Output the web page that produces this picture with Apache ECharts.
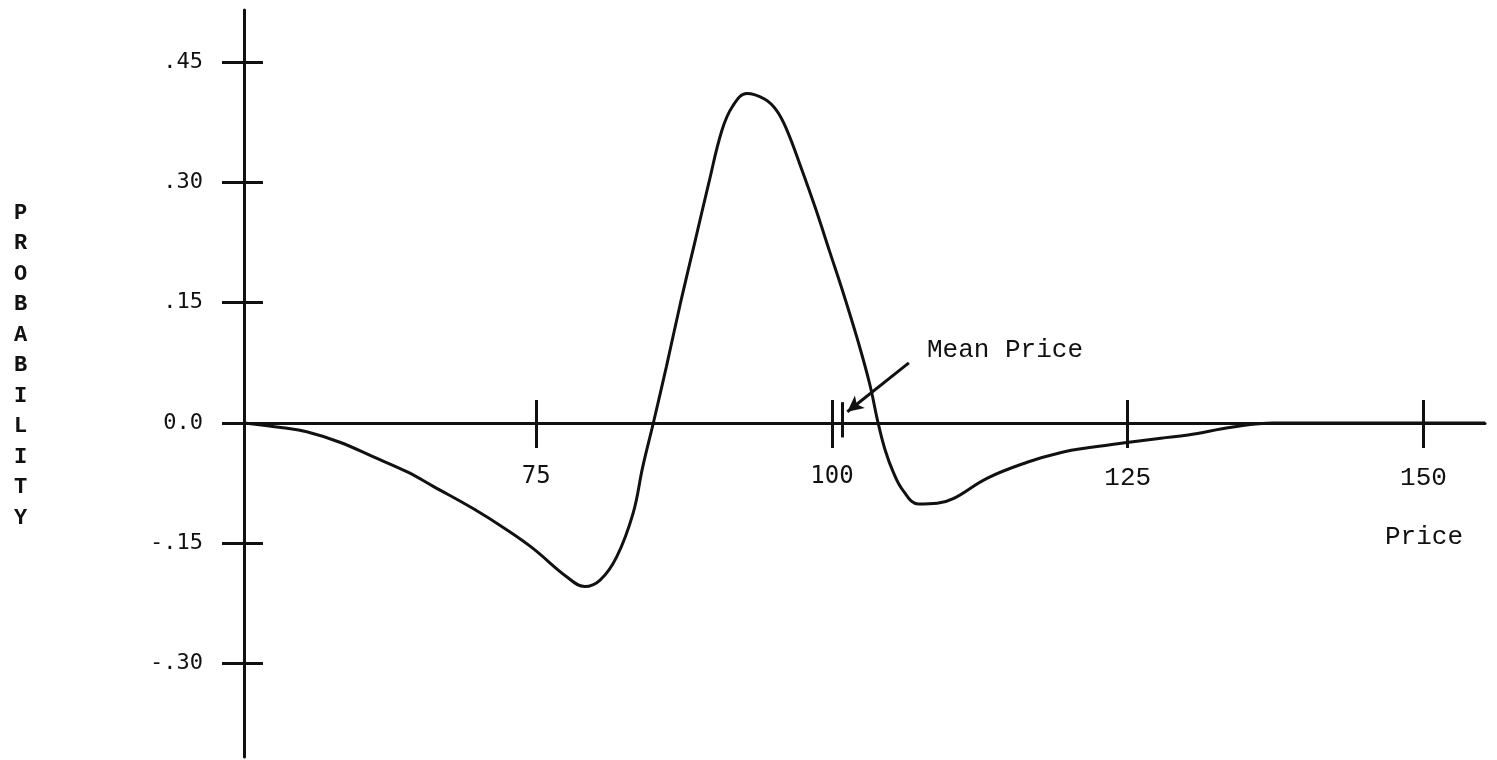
<!DOCTYPE html>
<html>
<head>
<meta charset="utf-8">
<script src="https://cdn.jsdelivr.net/npm/echarts@6/dist/echarts.min.js"></script>
<style>
html,body{margin:0;padding:0;background:#fff;}
#chart{width:1497px;height:760px;}
</style>
</head>
<body>
<div id="chart"></div>
<script>
// ---- data ----
const priceValues = [50.3, 53.6, 55.6, 58.4, 61.2, 64.1, 66.3, 69.7, 72.5, 74.7, 77.6, 79.1, 80.4, 81.8, 83.2, 84.0, 84.9, 86.0, 87.2, 88.4, 89.6, 90.7, 91.6, 92.8, 94.3, 95.3, 96.2, 97.4, 98.6, 99.8, 101.0, 102.2, 103.2, 103.9, 104.5, 105.2, 106.0, 107.3, 108.9, 110.3, 113.1, 116.5, 119.3, 122.1, 125.1, 127.8, 130.1, 133.9, 137.3, 145, 155.2];
const probValues = [0.0, -0.006, -0.011, -0.024, -0.042, -0.061, -0.079, -0.107, -0.133, -0.156, -0.192, -0.204, -0.196, -0.167, -0.112, -0.055, 0.0, 0.070, 0.150, 0.225, 0.300, 0.365, 0.395, 0.411, 0.404, 0.390, 0.365, 0.318, 0.268, 0.214, 0.160, 0.102, 0.048, 0.0, -0.034, -0.062, -0.084, -0.101, -0.100, -0.094, -0.069, -0.049, -0.037, -0.030, -0.024, -0.019, -0.015, -0.005, 0.0, 0.0, 0.0];
const xTickValues = [75, 100, 125, 150];
const yTickValues = [0.45, 0.30, 0.15, 0.0, -0.15, -0.30];
const yTickLabels = {'0.45': '.45', '0.3': '.30', '0.15': '.15', '0': '0.0', '-0.15': '-.15', '-0.3': '-.30'};
const meanPrice = 100.9;
const meanMark = [0.026, -0.018];
const arrowFrom = [106.5, 0.075];
const arrowTo = [101.3, 0.014];
const xTitle = 'Price';
const yTitle = 'PROBABILITY';
const meanLabel = 'Mean Price';

// ---- chart ----
const INK = '#111';
const chart = echarts.init(document.getElementById('chart'));
const gridLeft = 244, gridTop = 10, gridWidth = 1241, gridHeight = 747;
const xMin = 50.3, xMax = 155.2, yMin = -0.4165, yMax = 0.515;
// distance from the grid bottom up to the zero line (onZero axis labels are offset from grid bottom)
const zeroFromBottom = gridHeight * (0 - yMin) / (yMax - yMin);
const option = {
  backgroundColor: '#fff',
  animation: false,
  grid: {left: gridLeft, top: gridTop, width: gridWidth, height: gridHeight, containLabel: false, outerBoundsMode: 'none'},
  xAxis: [
    {
      type: 'value', min: xMin, max: xMax, position: 'bottom',
      axisLine: {show: true, onZero: true, lineStyle: {color: INK, width: 3}},
      axisTick: {show: true, customValues: xTickValues, length: 25, lineStyle: {color: INK, width: 3}},
      axisLabel: {
        show: true, customValues: xTickValues, margin: 42 - zeroFromBottom,
        formatter: function (v) { return (v < 110 ? '{a|' : '{b|') + v + '}'; },
        rich: {
          a: {fontFamily: 'DejaVu Sans Mono', fontSize: 24, color: INK},
          b: {fontFamily: 'Liberation Mono', fontSize: 26, color: INK}
        }
      },
      splitLine: {show: false}
    },
    {
      type: 'value', min: xMin, max: xMax, position: 'top',
      axisLine: {show: false, onZero: true},
      axisTick: {show: true, customValues: xTickValues, length: 23, lineStyle: {color: INK, width: 3}},
      axisLabel: {show: false},
      splitLine: {show: false}
    }
  ],
  yAxis: [
    {
      type: 'value', min: yMin, max: yMax, position: 'left',
      axisLine: {show: true, lineStyle: {color: INK, width: 3}},
      axisTick: {show: true, customValues: yTickValues, length: 22, lineStyle: {color: INK, width: 3}},
      axisLabel: {
        show: true, customValues: yTickValues, margin: 41,
        fontFamily: 'DejaVu Sans Mono', fontSize: 22, color: INK,
        formatter: function (v) { return yTickLabels[String(Math.round(v * 100) / 100)]; }
      },
      splitLine: {show: false}
    },
    {
      type: 'value', min: yMin, max: yMax, position: 'right', offset: -gridWidth,
      axisLine: {show: false},
      axisTick: {show: true, customValues: yTickValues, length: 19, lineStyle: {color: INK, width: 3}},
      axisLabel: {show: false},
      splitLine: {show: false}
    }
  ],
  series: [
    {
      type: 'line',
      data: priceValues.map((p, i) => [p, probValues[i]]),
      smooth: 0.4,
      symbol: 'none',
      lineStyle: {color: INK, width: 3},
      z: 3,
      markLine: {
        silent: true,
        symbol: 'none',
        label: {show: false},
        lineStyle: {color: INK, width: 3, type: 'solid'},
        data: [
          [{coord: [meanPrice, meanMark[0]], symbol: 'none'}, {coord: [meanPrice, meanMark[1]], symbol: 'none'}],
          [{coord: arrowFrom, symbol: 'none'}, {coord: arrowTo, symbol: 'arrow', symbolSize: [12, 16]}]
        ]
      }
    }
  ],
  graphic: [
    {
      type: 'text', left: 927, top: 337,
      style: {text: meanLabel, fontFamily: 'Liberation Mono', fontSize: 26, fill: INK}
    },
    {
      type: 'text', left: 1385, top: 524,
      style: {text: xTitle, fontFamily: 'Liberation Mono', fontSize: 26, fill: INK}
    },
    {
      type: 'text', left: 14, top: 198,
      style: {text: yTitle.split('').join('\n'), fontFamily: 'Liberation Mono', fontWeight: 'bold', fontSize: 22, lineHeight: 30.5, fill: INK, align: 'center'}
    }
  ]
};
chart.setOption(option);
</script>
</body>
</html>
